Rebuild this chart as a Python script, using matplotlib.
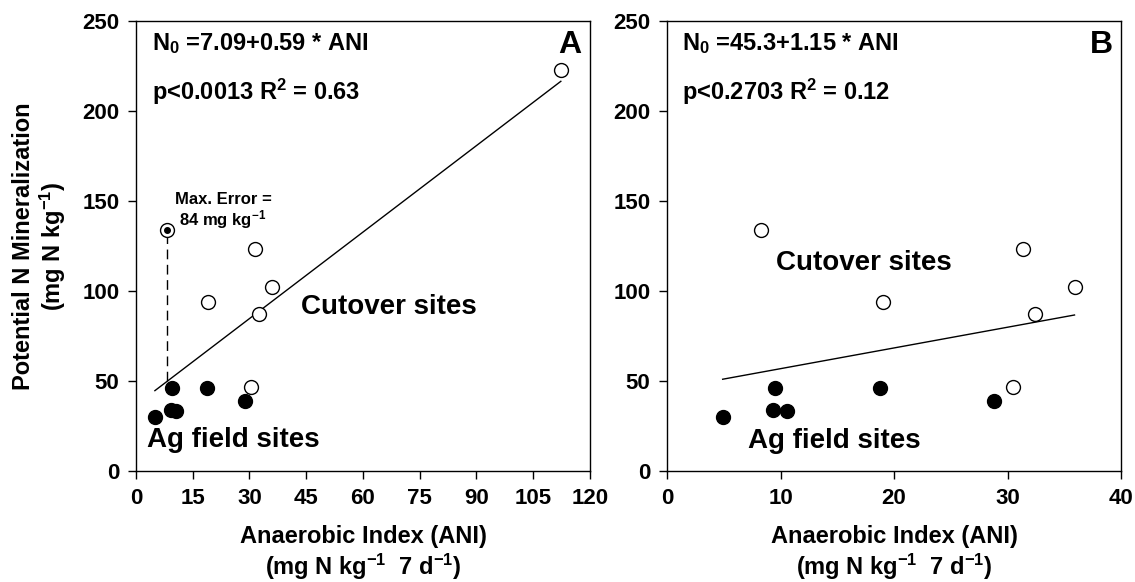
import numpy as np
import matplotlib
matplotlib.use("Agg")
import matplotlib.pyplot as plt

plt.rcParams['font.family'] = ['Liberation Sans', 'DejaVu Sans']
plt.rcParams['font.weight'] = 'bold'
plt.rcParams['mathtext.fontset'] = 'custom'
plt.rcParams['mathtext.rm'] = 'Liberation Sans:bold'
plt.rcParams['mathtext.bf'] = 'Liberation Sans:bold'
plt.rcParams['mathtext.it'] = 'Liberation Sans:bold'
plt.rcParams['mathtext.default'] = 'bf'

# Ag field sites (filled) and cutover sites (open)
ag_ani = [4.9, 9.5, 9.3, 10.6, 18.8, 28.8]
ag_n0 = [30.0, 46.0, 34.0, 33.5, 46.0, 39.0]
cut_ani = [8.3, 19.0, 31.4, 32.4, 35.9, 30.5]
cut_n0 = [134.0, 94.0, 123.0, 87.0, 102.0, 46.5]
# extra cutover site only in panel A
out_ani = [112.3]
out_n0 = [222.5]

# fitted lines (intercept, slope, x range)
fit_a = (36.6, 1.6, 5.0, 112.3)
fit_b = (45.3, 1.15, 4.9, 35.9)

max_err_ani = 8.3

fig = plt.figure(figsize=(11.35, 5.82), dpi=100)
axA = fig.add_axes([0.1198, 0.1907, 0.400, 0.774])
axB = fig.add_axes([0.5877, 0.1907, 0.400, 0.774])

def style(ax, xmax, xstep):
    ax.set_xlim(0, xmax)
    ax.set_ylim(0, 250)
    ax.set_xticks(np.arange(0, xmax + 1, xstep))
    ax.set_yticks(np.arange(0, 251, 50))
    ax.tick_params(direction='out', length=6, width=1, labelsize=16, pad=6,
                   top=False, right=False)
    for s in ax.spines.values():
        s.set_linewidth(1)
    for lab in ax.get_xticklabels() + ax.get_yticklabels():
        lab.set_fontweight('bold')
    ax.set_xlabel('Anaerobic Index (ANI)\n(mg N kg$^{-1}$  7 d$^{-1}$)',
                  fontsize=17, fontweight='bold', labelpad=12, linespacing=1.15)

def draw_fit(ax, fit):
    b0, b1, x0, x1 = fit
    xs = np.array([x0, x1])
    ax.plot(xs, b0 + b1 * xs, color='black', lw=1)

ms = 10
# panel A
style(axA, 120, 15)
draw_fit(axA, fit_a)
axA.plot(ag_ani, ag_n0, 'o', color='black', ms=ms, zorder=3)
axA.plot(cut_ani + out_ani, cut_n0 + out_n0, 'o', mfc='white', mec='black',
         mew=1, ms=ms, zorder=3)
axA.plot([max_err_ani], [cut_n0[0]], 'o', color='black', ms=4, zorder=4)
axA.plot([max_err_ani, max_err_ani],
         [fit_a[0] + fit_a[1] * max_err_ani, cut_n0[0] - 3.5],
         color='black', lw=1, dashes=(7, 4))
axA.text(23, 133, 'Max. Error =\n84 mg kg$^{-1}$', ha='center', va='bottom',
         fontsize=12, fontweight='bold', linespacing=1.1)
axA.text(0.035, 0.934, 'N$_0$ =7.09+0.59 * ANI', transform=axA.transAxes,
         fontsize=17, fontweight='bold')
axA.text(0.035, 0.824, 'p<0.0013 R$^2$ = 0.63', transform=axA.transAxes,
         fontsize=17, fontweight='bold')
axA.text(0.982, 0.928, 'A', transform=axA.transAxes, ha='right',
         fontsize=23, fontweight='bold')
axA.text(43.6, 87.2, 'Cutover sites', fontsize=20, fontweight='bold')
axA.text(2.8, 13.5, 'Ag field sites', fontsize=20, fontweight='bold')
axA.set_ylabel('Potential N Mineralization\n(mg N kg$^{-1}$)', fontsize=17,
               fontweight='bold', labelpad=10, linespacing=1.15)

# panel B
style(axB, 40, 10)
draw_fit(axB, fit_b)
axB.plot(ag_ani, ag_n0, 'o', color='black', ms=ms, zorder=3)
axB.plot(cut_ani, cut_n0, 'o', mfc='white', mec='black', mew=1, ms=ms,
         zorder=3)
axB.text(0.032, 0.934, 'N$_0$ =45.3+1.15 * ANI', transform=axB.transAxes,
         fontsize=17, fontweight='bold')
axB.text(0.032, 0.824, 'p<0.2703 R$^2$ = 0.12', transform=axB.transAxes,
         fontsize=17, fontweight='bold')
axB.text(0.982, 0.928, 'B', transform=axB.transAxes, ha='right',
         fontsize=23, fontweight='bold')
axB.text(9.6, 111.7, 'Cutover sites', fontsize=20, fontweight='bold')
axB.text(7.1, 12.8, 'Ag field sites', fontsize=20, fontweight='bold')

fig.savefig('out.png', dpi=100)
